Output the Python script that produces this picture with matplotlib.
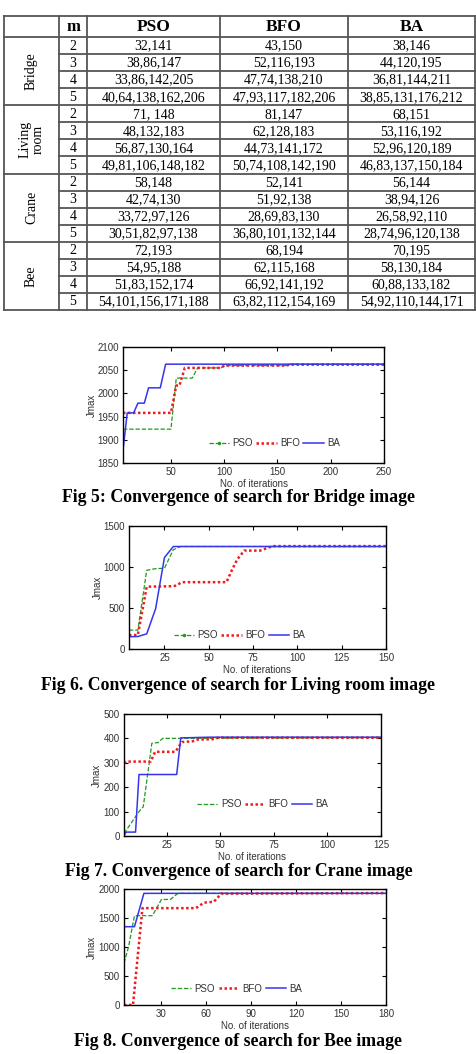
import matplotlib
matplotlib.use('Agg')
import matplotlib.pyplot as plt
from matplotlib.lines import Line2D

W, H, DPI = 477, 1054, 100

# ---------------- table data ----------------
image_names = ['Bridge', 'Living\nroom', 'Crane', 'Bee']
m_levels = ['2', '3', '4', '5']
algorithms = ['PSO', 'BFO', 'BA']
pso_thr = ['32,141', '38,86,147', '33,86,142,205', '40,64,138,162,206',
           '71, 148', '48,132,183', '56,87,130,164', '49,81,106,148,182',
           '58,148', '42,74,130', '33,72,97,126', '30,51,82,97,138',
           '72,193', '54,95,188', '51,83,152,174', '54,101,156,171,188']
bfo_thr = ['43,150', '52,116,193', '47,74,138,210', '47,93,117,182,206',
           '81,147', '62,128,183', '44,73,141,172', '50,74,108,142,190',
           '52,141', '51,92,138', '28,69,83,130', '36,80,101,132,144',
           '68,194', '62,115,168', '66,92,141,192', '63,82,112,154,169']
ba_thr = ['38,146', '44,120,195', '36,81,144,211', '38,85,131,176,212',
          '68,151', '53,116,192', '52,96,120,189', '46,83,137,150,184',
          '56,144', '38,94,126', '26,58,92,110', '28,74,96,120,138',
          '70,195', '58,130,184', '60,88,133,182', '54,92,110,144,171']

# ---------------- convergence data (breakpoints) ----------------
# Fig 5 Bridge
bridge_pso_x = [5, 50, 55, 70, 75, 97, 100, 160, 162, 250]
bridge_pso_y = [1923, 1923, 2033, 2033, 2055, 2055, 2060, 2060, 2063, 2063]
bridge_bfo_x = [5, 50, 55, 58, 63, 97, 100, 158, 162, 250]
bridge_bfo_y = [1958, 1958, 2017, 2017, 2055, 2055, 2060, 2060, 2062, 2062]
bridge_ba_x = [5, 9, 15, 19, 25, 29, 40, 45, 250]
bridge_ba_y = [1878, 1958, 1958, 1979, 1979, 2012, 2012, 2063, 2063]
# Fig 6 Living room
living_pso_x = [5, 10, 15, 20, 25, 30, 34, 150]
living_pso_y = [230, 230, 960, 980, 985, 1210, 1250, 1250]
living_bfo_x = [5, 10, 15, 28, 31, 35, 60, 63, 66, 70, 79, 86, 150]
living_bfo_y = [170, 170, 760, 765, 770, 815, 815, 960, 1090, 1200, 1200, 1255, 1255]
living_ba_x = [5, 10, 15, 20, 25, 30, 150]
living_ba_y = [150, 152, 185, 490, 1115, 1250, 1250]
# Fig 7 Crane
crane_pso_x = [5, 12, 14, 18, 21, 23, 125]
crane_pso_y = [10, 100, 120, 380, 383, 400, 403]
crane_bfo_x = [5, 6, 17.5, 19.5, 29, 32, 37, 39, 47, 49, 125]
crane_bfo_y = [298, 305, 305, 345, 345, 385, 388, 395, 397, 403, 403]
crane_ba_x = [5, 6, 10.4, 12, 29.6, 31.5, 45, 125]
crane_ba_y = [2, 16, 16, 252, 252, 402, 405, 405]
# Fig 8 Bee
bee_pso_x = [5, 8, 12, 24, 30, 36, 41, 180]
bee_pso_y = [720, 1000, 1540, 1540, 1820, 1820, 1925, 1925]
bee_bfo_x = [5, 11, 17.3, 53, 58.5, 65, 70, 180]
bee_bfo_y = [0, 0, 1670, 1670, 1765, 1780, 1920, 1930]
bee_ba_x = [5, 12, 18.3, 180]
bee_ba_y = [1350, 1350, 1925, 1925]

fig_captions = ['Fig 5: Convergence of search for Bridge image',
                'Fig 6. Convergence of search for Living room image',
                'Fig 7. Convergence of search for Crane image',
                'Fig 8. Convergence of search for Bee image']

# ---------------- figure ----------------
fig = plt.figure(figsize=(W / DPI, H / DPI), dpi=DPI)
fig.patch.set_facecolor('white')

SERIF = ['Liberation Serif', 'DejaVu Serif']
SANS = ['Liberation Sans', 'DejaVu Sans']

# table drawn in pixel coordinates
tab = fig.add_axes([0, 0, 1, 1])
tab.set_xlim(0, W)
tab.set_ylim(H, 0)
tab.axis('off')
tab.patch.set_visible(False)

col_x = [4, 59, 87, 220, 348, 475]
t_top, t_head, t_bot = 16, 37, 310
n_rows = len(pso_thr)
row_h = (t_bot - t_head) / n_rows
lc = '#555555'
lw = 1.3
for x in col_x:
    tab.plot([x, x], [t_top, t_bot], color=lc, lw=lw, solid_capstyle='projecting')
tab.plot([col_x[0], col_x[-1]], [t_top, t_top], color=lc, lw=lw, solid_capstyle='projecting')
tab.plot([col_x[0], col_x[-1]], [t_head, t_head], color=lc, lw=lw)
for r in range(1, n_rows + 1):
    y = t_head + r * row_h
    if r % 4 == 0:
        tab.plot([col_x[0], col_x[-1]], [y, y], color=lc, lw=lw, solid_capstyle='projecting')
    else:
        tab.plot([col_x[1], col_x[-1]], [y, y], color=lc, lw=lw)

hy = (t_top + t_head) / 2 + 0.5
tab.text((col_x[1] + col_x[2]) / 2, hy, 'm', ha='center', va='center',
         fontsize=12, fontweight='bold', family=SERIF)
for i, name in enumerate(algorithms):
    tab.text((col_x[2 + i] + col_x[3 + i]) / 2, hy, name, ha='center', va='center',
             fontsize=12.5, fontweight='bold', family=SERIF)

cols = [pso_thr, bfo_thr, ba_thr]
for r in range(n_rows):
    yc = t_head + (r + 0.5) * row_h + 0.5
    tab.text((col_x[1] + col_x[2]) / 2, yc, m_levels[r % 4], ha='center', va='center',
             fontsize=10, family=SERIF)
    for i, col in enumerate(cols):
        tab.text((col_x[2 + i] + col_x[3 + i]) / 2, yc, col[r], ha='center', va='center',
                 fontsize=10, family=SERIF)
for g, name in enumerate(image_names):
    yc = t_head + (g * 4 + 2) * row_h
    tab.text((col_x[0] + col_x[1]) / 2, yc, name, ha='center', va='center',
             rotation=90, fontsize=10, family=SERIF, linespacing=1.0, multialignment='center')

# ---------------- charts ----------------
C_PSO = '#1f9a1f'
C_BFO = '#ee1c1c'
C_BA = '#3535ee'
TXT = '#333333'


def chart(box, xlim, ylim, xticks, yticks, pso, bfo, ba, leg_xy, ylab_x, pso_marker):
    left, right, top, bottom = box
    ax = fig.add_axes([left / W, 1 - bottom / H, (right - left) / W, (bottom - top) / H])
    ax.plot(pso[0], pso[1], color=C_PSO, lw=0.9, ls=(0, (3.5, 1.5)))
    ax.plot(bfo[0], bfo[1], color=C_BFO, lw=1.8, ls=(0, (1, 1)))
    ax.plot(ba[0], ba[1], color=C_BA, lw=1.1, ls='-')
    ax.set_xlim(*xlim)
    ax.set_ylim(*ylim)
    ax.set_xticks(xticks)
    ax.set_yticks(yticks)
    ax.tick_params(direction='in', length=3, width=0.8, top=True, right=True,
                   labelsize=7, labelcolor=TXT, pad=3)
    for lab in ax.get_xticklabels() + ax.get_yticklabels():
        lab.set_family(SANS)
    for s in ax.spines.values():
        s.set_linewidth(1.0)
    ax.set_xlabel('No. of iterations', fontsize=7, color=TXT, family=SANS, labelpad=1.5)
    ax.set_ylabel('Jmax', fontsize=7, color=TXT, family=SANS)
    ax.yaxis.set_label_coords(ylab_x, 0.5)
    handles = [
        Line2D([], [], color=C_PSO, lw=0.9, ls=(0, (3.5, 1.5)),
               marker='.' if pso_marker else None, markersize=3),
        Line2D([], [], color=C_BFO, lw=1.8, ls=(0, (1, 1))),
        Line2D([], [], color=C_BA, lw=1.1, ls='-'),
    ]
    ax.legend(handles, algorithms, loc='center', bbox_to_anchor=leg_xy, ncol=3,
              frameon=False, handlelength=2.1, handletextpad=0.35,
              columnspacing=0.35, borderpad=0, labelcolor=TXT,
              prop={'family': SANS, 'size': 7})
    return ax


chart((123, 384, 347, 463), (5, 250), (1850, 2100), [50, 100, 150, 200, 250],
      [1850, 1900, 1950, 2000, 2050, 2100],
      (bridge_pso_x, bridge_pso_y), (bridge_bfo_x, bridge_bfo_y), (bridge_ba_x, bridge_ba_y),
      (0.58, 0.17), -0.10, True)
chart((129, 386, 526, 649), (5, 150), (0, 1500), [25, 50, 75, 100, 125, 150],
      [0, 500, 1000, 1500],
      (living_pso_x, living_pso_y), (living_bfo_x, living_bfo_y), (living_ba_x, living_ba_y),
      (0.43, 0.11), -0.10, True)
chart((124, 381, 714, 836), (5, 125), (0, 500), [25, 50, 75, 100, 125],
      [0, 100, 200, 300, 400, 500],
      (crane_pso_x, crane_pso_y), (crane_bfo_x, crane_bfo_y), (crane_ba_x, crane_ba_y),
      (0.54, 0.26), -0.085, False)
chart((124, 386, 889, 1005), (5, 180), (0, 2000), [30, 60, 90, 120, 150, 180],
      [0, 500, 1000, 1500, 2000],
      (bee_pso_x, bee_pso_y), (bee_bfo_x, bee_bfo_y), (bee_ba_x, bee_ba_y),
      (0.43, 0.14), -0.105, False)

cap_y = [497, 686, 872, 1042]
for cy, cap in zip(cap_y, fig_captions):
    fig.text(0.5, 1 - cy / H, cap, ha='center', va='center', fontsize=12.8,
             fontweight='bold', family=SERIF)

fig.savefig('out.png', dpi=DPI, facecolor='white')
